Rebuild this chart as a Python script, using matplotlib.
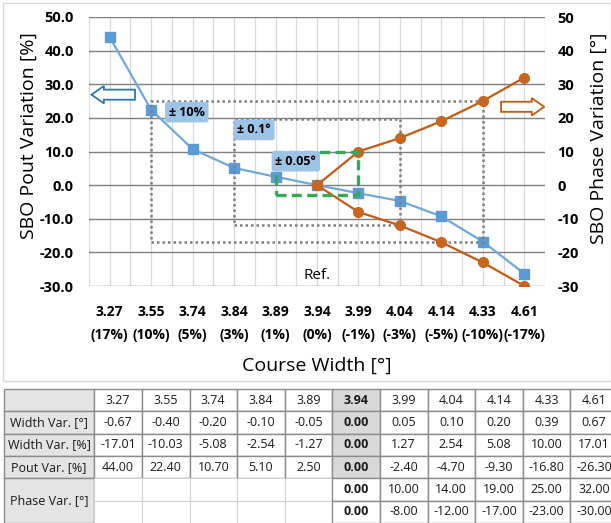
import matplotlib
matplotlib.use('Agg')
from matplotlib import pyplot as plt
from matplotlib import patches
import numpy as np

plt.rcParams['font.family'] = ['Open Sans', 'DejaVu Sans']

# ---- data ----
course_width = ['3.27', '3.55', '3.74', '3.84', '3.89', '3.94', '3.99', '4.04', '4.14', '4.33', '4.61']
width_pct_label = ['(17%)', '(10%)', '(5%)', '(3%)', '(1%)', '(0%)', '(-1%)', '(-3%)', '(-5%)', '(-10%)', '(-17%)']
width_var_deg = [-0.67, -0.40, -0.20, -0.10, -0.05, 0.00, 0.05, 0.10, 0.20, 0.39, 0.67]
width_var_pct = [-17.01, -10.03, -5.08, -2.54, -1.27, 0.00, 1.27, 2.54, 5.08, 10.00, 17.01]
pout_var = [44.00, 22.40, 10.70, 5.10, 2.50, 0.00, -2.40, -4.70, -9.30, -16.80, -26.30]
phase_up = [0.00, 10.00, 14.00, 19.00, 25.00, 32.00]      # from 3.94 onward
phase_down = [0.00, -8.00, -12.00, -17.00, -23.00, -30.00]
ref_idx = 5

# tolerance boxes: (x0 index, x1 index, y bottom, y top)
box_10pct = (1, 9, -16.8, 25.0)
box_01deg = (3, 7, -12.0, 19.6)
box_005deg = (4, 6, -3.0, 10.0)

blue = '#5b9bd5'
orange = '#c55a11'
green = '#33aa55'

fig = plt.figure(figsize=(6.11, 5.23), dpi=100)
W, H = 611.0, 523.0
ax = fig.add_axes([89 / W, 1 - 286 / H, (545 - 89) / W, (286 - 17) / H])
ax2 = ax.twinx()

x = np.arange(len(course_width))
ax.set_xlim(-0.5, len(x) - 0.5)
ax.set_ylim(-30, 50)
ax2.set_ylim(-30, 50)

# grid
for v in np.arange(-0.5, len(x), 0.5):
    ax.axvline(v, color='#d9d9d9', lw=0.9, zorder=0)
ax.set_yticks(np.arange(-30, 51, 10))
ax.grid(axis='y', color='#7f7f7f', lw=1.0, zorder=0)
ax.set_axisbelow(True)
for s in ax.spines.values():
    s.set_visible(False)
for s in ax2.spines.values():
    s.set_visible(False)

# series
ax.plot(x, pout_var, color='#6fa8dc', lw=1.6, marker='s', ms=6.5,
        mfc=blue, mec=blue, zorder=5)
xp = x[ref_idx:]
ax2.plot(xp, phase_up, color=orange, lw=1.6, marker='o', ms=7,
         mfc='#c8651e', mec='#c8651e', zorder=5)
ax2.plot(xp, phase_down, color=orange, lw=1.6, marker='o', ms=7,
         mfc='#c8651e', mec='#c8651e', zorder=5)

# ticks
ax.set_xticks(x)
ax.set_xticklabels([a + '\n' + b for a, b in zip(course_width, width_pct_label)],
                   fontsize=10, fontweight='bold', linespacing=1.75)
ax.tick_params(axis='x', length=0, pad=14)
ax.set_yticklabels(['%.1f' % v for v in np.arange(-30, 51, 10)],
                   fontsize=10.5, fontweight='bold')
ax.tick_params(axis='y', length=0, pad=11)
ax2.set_yticks(np.arange(-30, 51, 10))
ax2.set_yticklabels(['%d' % v for v in np.arange(-30, 51, 10)],
                    fontsize=10.5, fontweight='bold')
ax2.tick_params(axis='y', length=0, pad=9)

ax.set_ylabel('SBO Pout Variation [%]', fontsize=14)
ax.yaxis.set_label_coords(-0.112, 0.56)
ax2.set_ylabel('SBO Phase Variation [°]', fontsize=14, rotation=90)
ax2.yaxis.set_label_coords(1.098, 0.55)
fig.text(317 / W, 1 - 366 / H, 'Course Width [°]', fontsize=14,
         ha='center', va='center')

# tolerance boxes
for (x0, x1, y0, y1) in [box_10pct, box_01deg]:
    ax2.add_patch(patches.Rectangle((x0, y0), x1 - x0, y1 - y0, fill=False,
                                    ec='#7f7f7f', lw=1.8, ls=(0, (1, 1.2)), zorder=3))
x0, x1, y0, y1 = box_005deg
ax2.add_patch(patches.Rectangle((x0, y0), x1 - x0, y1 - y0, fill=False,
                                ec=green, lw=2.4, ls=(0, (3, 1.6)), zorder=6))

lbl = dict(fontsize=9, fontweight='bold', ha='center', va='center', zorder=7,
           bbox=dict(boxstyle='round,pad=0.3,rounding_size=0.2', fc='#9dc3e6', ec='none'))
ax2.text(1.86, 21.7, '± 10%', **lbl)
ax2.text(3.48, 16.4, '± 0.1°', **lbl)
ax2.text(4.49, 7.1, '± 0.05°', **lbl)

ax2.text(ref_idx, -27, 'Ref.', fontsize=11, ha='center', va='center')

# hollow arrows
ax2.add_patch(patches.FancyArrow(0.61, 26.9, -1.05, 0, width=3.0, head_width=5.2,
                                 head_length=0.3, length_includes_head=True,
                                 fc='white', ec='#2e75b6', lw=1.3, zorder=7))
ax2.add_patch(patches.FancyArrow(9.44, 23.3, 1.04, 0, width=3.0, head_width=5.2,
                                 head_length=0.3, length_includes_head=True,
                                 fc='white', ec=orange, lw=1.3, zorder=7))

# ---- table + chart frame ----
tax = fig.add_axes([0, 0, 1, 1])
tax.set_xlim(0, W)
tax.set_ylim(H, 0)
tax.axis('off')
tax.add_patch(patches.Rectangle((3, 3), 608, 378, fill=False, ec='#d9d9d9', lw=1))

col0, col1, cw = 4.0, 94.3, 47.6
top, rh = 389.0, 22.33
ncol = len(course_width)
line_c = '#8c8c8c'
gray = '#d9d9d9'
label_gray = '#e4e4e4'

def cell(ci, ri, nrow=1, fc='white', ec=line_c, lw=1.0):
    if ci < 0:
        x0, w = col0, col1 - col0
    else:
        x0, w = col1 + ci * cw, cw
    tax.add_patch(patches.Rectangle((x0, top + ri * rh), w, nrow * rh,
                                    fc=fc, ec=ec, lw=lw, zorder=1))
    return x0 + w / 2, top + (ri + nrow / 2) * rh

rows = [('', course_width),
        ('Width Var. [°]', ['%.2f' % v for v in width_var_deg]),
        ('Width Var. [%]', ['%.2f' % v for v in width_var_pct]),
        ('Pout Var. [%]', ['%.2f' % v for v in pout_var])]
tfont = dict(fontsize=9, ha='center', va='center', color='#1a1a1a', zorder=3)
for ri, (name, vals) in enumerate(rows):
    cx, cy = cell(-1, ri, fc=label_gray)
    tax.text(cx, cy, name, **tfont)
    for ci, v in enumerate(vals):
        is_ref = ci == ref_idx
        cx, cy = cell(ci, ri, fc=gray if is_ref else 'white')
        tax.text(cx, cy, v, fontweight='bold' if is_ref else 'normal', **tfont)

cx, cy = cell(-1, 4, nrow=2, fc=label_gray)
tax.text(cx, cy, 'Phase Var. [°]', **tfont)
for ri, series in [(4, phase_up), (5, phase_down)]:
    for ci in range(ncol):
        if ci < ref_idx:
            cell(ci, ri, ec='#d0d0d0', lw=0.8)
    for k, v in enumerate(series):
        ci = ref_idx + k
        cx, cy = cell(ci, ri)
        tax.text(cx, cy, '%.2f' % v, fontweight='bold' if ci == ref_idx else 'normal', **tfont)

fig.savefig('out.png', dpi=100)
